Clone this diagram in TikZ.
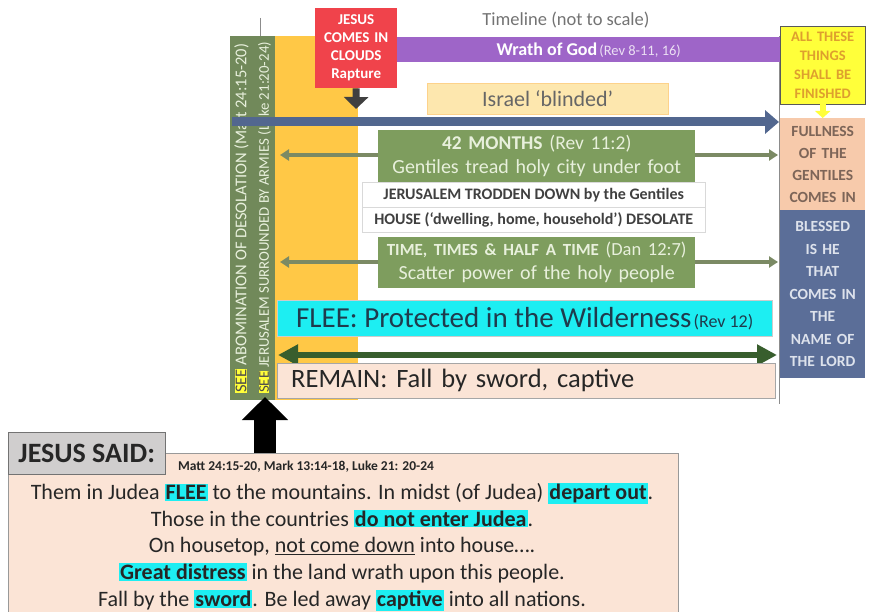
\documentclass[tikz,border=0pt]{standalone}
\usepackage{fontspec}
\setmainfont{Carlito}
\usetikzlibrary{arrows.meta}

\definecolor{colgreen}{HTML}{71895A}
\definecolor{boxgreen}{HTML}{7E9D5E}
\definecolor{greentext}{HTML}{E8F0DC}
\definecolor{bandorange}{HTML}{FFC846}
\definecolor{cloudred}{HTML}{F0434B}
\definecolor{wrathpurple}{HTML}{9E65C8}
\definecolor{slateblue}{HTML}{52678F}
\definecolor{fleecyan}{HTML}{1DEEF2}
\definecolor{fleetext}{HTML}{1F3B4D}
\definecolor{remainpeach}{HTML}{FBE4D6}
\definecolor{fullpeach}{HTML}{F7CAAB}
\definecolor{fulltext}{HTML}{7D6558}
\definecolor{blessblue}{HTML}{5B6E98}
\definecolor{blesstext}{HTML}{DDE2EC}
\definecolor{blindyellow}{HTML}{FDE7AE}
\definecolor{finishyellow}{HTML}{FFFF3A}
\definecolor{finishtext}{HTML}{DE9F2E}
\definecolor{arrowgreen}{HTML}{385E2D}
\definecolor{treadgray}{HTML}{7B8A64}
\definecolor{saidgray}{HTML}{D0CECE}

\newcommand\hlcyan[1]{{\setlength{\fboxsep}{1pt}\colorbox{fleecyan}{\bfseries #1}}}
\newcommand\hlsee{{\setlength{\fboxsep}{0.5pt}\colorbox{finishyellow}{\textcolor{black!70}{SEE}}}}

\begin{document}
\begin{tikzpicture}[x=1pt,y=-1pt,font=\small,
  rect/.style={inner sep=0pt,align=center,anchor=north west},
  treadarrow/.style={line width=3.5,treadgray,{Triangle[width=11,length=9]}-{Triangle[width=11,length=9]}},
  coltext/.style={rotate=90,anchor=west,text=greentext}]

\useasboundingbox (0,0) rectangle (874,612);

% timeline frame
\draw[black!45] (260,18) -- (260,36);
\draw[black!45] (779,36) -- (779,404);
\node[text=black!55,font=\fontsize{18.5}{20}\selectfont] (timeline) at (566,20) {Timeline (not to scale)};

\node[rect,fill=colgreen,minimum width=23,minimum height=364] (abom) at (230,36) {};
\node[rect,fill=colgreen,minimum width=22,minimum height=364] (armies) at (253,36) {};
\node[rect,fill=bandorange,minimum width=83,minimum height=364] (band) at (275,36) {};
\node[coltext,font=\fontsize{16.5}{18}\selectfont] (abomtext) at (241.5,397) {\hlsee\ ABOMINATION OF DESOLATION (Matt 24:15-20)};
\node[coltext,font=\fontsize{14.8}{16}\selectfont] (armiestext) at (264.5,397) {\hlsee\ JERUSALEM SURROUNDED BY ARMIES (Luke 21:20-24)};

\node[rect,fill=cloudred,text=white,minimum width=82,minimum height=80,text width=82,
  font=\fontsize{15}{18}\selectfont\bfseries] (clouds) at (315,8) {JESUS\\COMES IN\\CLOUDS\\Rapture};
\node[rect,anchor=west,fill=wrathpurple,minimum width=383,minimum height=25,text=white] (wrath) at (397,50)
  {{\bfseries\fontsize{18}{20}\selectfont Wrath of God} {\fontsize{14.5}{16}\selectfont\color{white!80!wrathpurple}(Rev 8-11, 16)}};

\node[rect,fill=finishyellow,draw=black!65,minimum width=85,minimum height=78,text width=85,text=finishtext,
  font=\fontsize{14.5}{19}\selectfont\bfseries] (finished) at (780,26) {ALL THESE\\THINGS\\SHALL BE\\FINISHED};
\node[rect,fill=fullpeach,minimum width=85,minimum height=92,text width=85,text=fulltext,
  font=\fontsize{15.5}{22}\selectfont\bfseries] (fullness) at (780,118) {FULLNESS\\OF THE\\GENTILES\\COMES IN};
\node[rect,fill=blessblue,minimum width=85,minimum height=168,text width=85,text=blesstext,
  font=\fontsize{15.5}{22.5}\selectfont\bfseries] (blessed) at (780,210) {BLESSED\\IS HE\\THAT\\COMES IN\\THE\\NAME OF\\THE LORD};
\draw[-{Triangle[width=15,length=7]},line width=6,finishyellow] (finished.south) -- (fullness.north);

\node[rect,fill=blindyellow,draw=blindyellow!80!orange,minimum width=241,minimum height=31,text=black!60,
  font=\fontsize{22}{24}\selectfont] (blinded) at (427,83) {Israel `blinded'};

\coordinate (tlstart) at (232,122);
\coordinate (tlend) at (779,122);
\draw[line width=9,slateblue,-{Triangle[width=23,length=14]}] (tlstart) -- (tlend);
\coordinate (cloudsend) at (356,109);
\draw[line width=7,black!75,-{Triangle[width=24,length=12]}] (clouds.south) -- (cloudsend);

% green periods
\coordinate (treadL) at (280,155);
\coordinate (treadR) at (778,155);
\draw[treadarrow] (treadL) -- (treadR);
\coordinate (scatterL) at (280,262);
\coordinate (scatterR) at (778,262);
\draw[treadarrow] (scatterL) -- (scatterR);

\node[rect,fill=boxgreen,minimum width=317,minimum height=52,text width=317,text=greentext,
  font=\fontsize{20}{24}\selectfont] (months) at (378,130)
  {{\bfseries\fontsize{19.5}{24}\selectfont 42 MONTHS} {\fontsize{19.5}{24}\selectfont (Rev 11:2)}\\Gentiles tread holy city under foot};
\node[rect,fill=white,draw=black!15,minimum width=343,minimum height=25,text=black!75,
  font=\fontsize{16}{18}\selectfont\bfseries] (trodden) at (362,182) {JERUSALEM TRODDEN DOWN by the Gentiles};
\node[rect,fill=white,draw=black!15,minimum width=343,minimum height=25,text=black!75,
  font=\fontsize{16}{18}\selectfont\bfseries] (desolate) at (362,207) {HOUSE (`dwelling, home, household') DESOLATE};
\node[rect,fill=boxgreen,minimum width=317,minimum height=51,text width=317,text=greentext,
  font=\fontsize{20}{24}\selectfont] (scatter) at (378,237)
  {{\bfseries\fontsize{17}{24}\selectfont TIME, TIMES \& HALF A TIME} {\fontsize{18.5}{24}\selectfont (Dan 12:7)}\\Scatter power of the holy people};

\node[rect,fill=fleecyan,draw=black!20,minimum width=495,minimum height=36,text=fleetext] (flee) at (277,300)
  {{\fontsize{29}{32}\selectfont FLEE: Protected in the Wilderness} {\fontsize{18}{20}\selectfont (Rev 12)}};
\coordinate (fleeL) at (278,355);
\coordinate (fleeR) at (777,355);
\draw[line width=6,arrowgreen,{Triangle[width=20,length=20]}-{Triangle[width=20,length=20]}] (fleeL) -- (fleeR);
\node[rect,fill=remainpeach,draw=black!35,inner xsep=14,text width=470,minimum height=35,align=left,
  text=black!85,font=\fontsize{26.5}{28}\selectfont] (remain) at (277,363) {REMAIN: Fall by sword, captive};

% what Jesus said
\node[rect,fill=remainpeach,draw=black!40,minimum width=670,minimum height=170] (said) at (8,453) {};
\node[rect,fill=saidgray,draw=black!55,minimum width=157,minimum height=42,text=black!85,
  font=\fontsize{28}{30}\selectfont\bfseries] (jesus) at (8,432) {JESUS SAID:};
\coordinate (uptip) at (265,397);
\draw[line width=22,black,-{Triangle[width=45,length=23]}] (said.north -| uptip) -- (uptip);
\node[text=black!85,font=\fontsize{13.5}{15}\selectfont\bfseries] (refs) at (306,467) {Matt 24:15-20, Mark 13:14-18, Luke 21: 20-24};
\node[align=center,text=black!85,font=\fontsize{22}{26.7}\selectfont] (saidtext) at (342,547)
  {Them in Judea \hlcyan{FLEE} to the mountains. In midst (of Judea) \hlcyan{depart out}.\\
   Those in the countries \hlcyan{do not enter Judea}.\\
   On housetop, \underline{not come down} into house\dots.\\
   \hlcyan{Great distress} in the land wrath upon this people.\\
   Fall by the \hlcyan{sword}. Be led away \hlcyan{captive} into all nations.};

\end{tikzpicture}
\end{document}
